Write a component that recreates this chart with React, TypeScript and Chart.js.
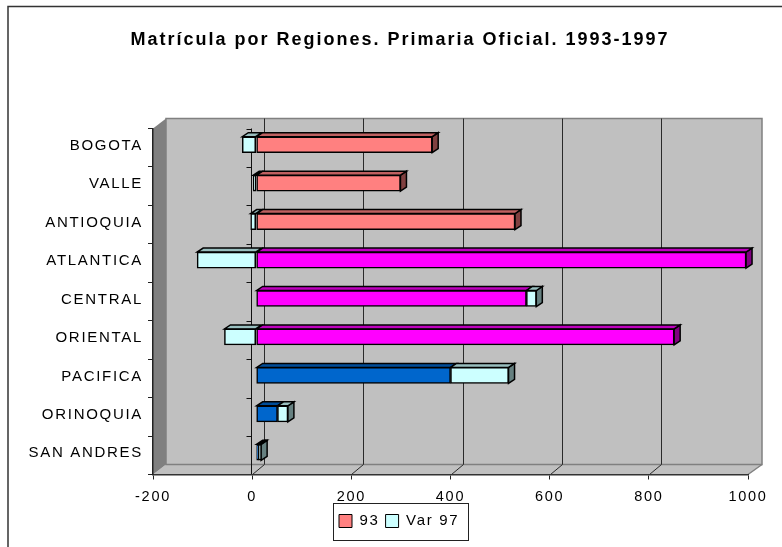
import React, { useEffect, useRef } from "react";
import { Chart, registerables } from "chart.js";

Chart.register(...registerables);

const categories = ["BOGOTA", "VALLE", "ANTIOQUIA", "ATLANTICA", "CENTRAL", "ORIENTAL", "PACIFICA", "ORINOQUIA", "SAN ANDRES"];
const values93 = [355, 291, 522, 988, 545, 843, 392, 43, 5];
const valuesVar97 = [-28, -6, -11, -119, 20, -64, 117, 21, 5];
const salmon = "#FF8080";
const magenta = "#FF00FF";
const blue = "#0066CC";
const cyan = "#CCFFFF";
const colors93 = [salmon, salmon, salmon, magenta, magenta, magenta, blue, blue, blue];
const colorsVar97 = categories.map(() => cyan);
const titleText = "Matrícula por Regiones. Primaria Oficial. 1993-1997";
const FONT = "'Liberation Sans', Arial, sans-serif";

const shade = (hex: string, f: number) => {
  const n = parseInt(hex.slice(1), 16);
  const c = [(n >> 16) & 255, (n >> 8) & 255, n & 255].map((v) => Math.round(v * f));
  return `rgb(${c[0]},${c[1]},${c[2]})`;
};

const poly = (ctx: CanvasRenderingContext2D, pts: number[][], fill: string, stroke?: string, lw = 1) => {
  ctx.beginPath();
  pts.forEach((p, i) => (i ? ctx.lineTo(p[0], p[1]) : ctx.moveTo(p[0], p[1])));
  ctx.closePath();
  ctx.fillStyle = fill;
  ctx.fill();
  if (stroke) {
    ctx.strokeStyle = stroke;
    ctx.lineWidth = lw;
    ctx.stroke();
  }
};

const WALL_LEFT_DX = 13;
const WALL_RIGHT_DX = 14;
const GRID_DX = 12;
const WALL_DY = -10;
const BAR_DX = 4;
const BAR_DY = -3;
const DEPTH_X = 6;
const DEPTH_Y = -4;

const scene = {
  id: "scene",
  beforeDraw(chart: any) {
    const { ctx, chartArea: a, scales } = chart;
    ctx.letterSpacing = "1.7px";
    // position title and legend
    const tb = chart.titleBlock;
    tb.left = 0;
    tb.right = 800;
    if (!tb.__patched) {
      const orig = tb.draw;
      tb.draw = function (...args: any[]) {
        ctx.letterSpacing = "2px";
        orig.apply(this, args);
        ctx.letterSpacing = "1.7px";
      };
      tb.__patched = true;
    }
    const lg = chart.legend;
    lg.left = 333;
    lg.right = 600;
    lg.top = 507.5;
    lg.bottom = 540;

    ctx.save();
    // frame
    ctx.strokeStyle = "#333";
    ctx.lineWidth = 1.5;
    ctx.beginPath();
    ctx.moveTo(8, 547);
    ctx.lineTo(8, 6.5);
    ctx.lineTo(782, 6.5);
    ctx.stroke();
    const bl = a.left + WALL_LEFT_DX;
    const br = a.right + WALL_RIGHT_DX;
    const bt = a.top + WALL_DY;
    const bb = a.bottom + WALL_DY;
    // floor, back wall, side wall
    poly(ctx, [[a.left, a.bottom], [a.right, a.bottom], [br, bb], [bl, bb]], "#C0C0C0");
    poly(ctx, [[bl, bt], [br, bt], [br, bb], [bl, bb]], "#C0C0C0", "#808080", 1.5);
    poly(ctx, [[a.left, a.top], [bl, bt], [bl, bb], [a.left, a.bottom]], "#808080");
    ctx.strokeStyle = "#808080";
    ctx.lineWidth = 1.5;
    ctx.beginPath();
    ctx.moveTo(a.right, a.bottom);
    ctx.lineTo(br, bb);
    ctx.stroke();
    // value grid on wall and floor
    ctx.strokeStyle = "#2a2a2a";
    ctx.lineWidth = 1;
    scales.x.ticks.forEach((t: any) => {
      if (t.value <= scales.x.min || t.value >= scales.x.max) return;
      const x = Math.round(scales.x.getPixelForValue(t.value)) + 0.5;
      ctx.beginPath();
      ctx.moveTo(x + GRID_DX, bt);
      ctx.lineTo(x + GRID_DX, bb);
      ctx.lineTo(x, a.bottom);
      ctx.stroke();
    });
    // zero axis with its ticks
    const zero = Math.round(scales.x.getPixelForValue(0)) - 0.5;
    ctx.strokeStyle = "#111";
    ctx.beginPath();
    ctx.moveTo(zero, a.top);
    ctx.lineTo(zero, a.bottom);
    const band = (a.bottom - a.top) / categories.length;
    categories.forEach((_, i) => {
      const y = Math.round(a.top + i * band) + 0.5;
      ctx.moveTo(zero - 5, y);
      ctx.lineTo(zero, y);
    });
    ctx.stroke();
    ctx.restore();
  },
  beforeDatasetsDraw(chart: any) {
    const { ctx } = chart;
    ctx.save();
    ctx.translate(BAR_DX, BAR_DY);
    chart.data.datasets.forEach((ds: any, di: number) => {
      chart.getDatasetMeta(di).data.forEach((el: any, i: number) => {
        const L = Math.min(el.x, el.base);
        const R = Math.max(el.x, el.base);
        const T = el.y - el.height / 2;
        const B = el.y + el.height / 2;
        const col = ds.backgroundColor[i];
        const outer = ds.data[i] > 0 && !(di === 0 && chart.data.datasets[1].data[i] > 0);
        if (outer) {
          poly(ctx, [[R, T], [R + DEPTH_X, T + DEPTH_Y], [R + DEPTH_X, B + DEPTH_Y], [R, B]], shade(col, 0.5), "#000", 1.5);
        }
        poly(ctx, [[L, T], [R, T], [R + DEPTH_X, T + DEPTH_Y], [L + DEPTH_X, T + DEPTH_Y]], shade(col, 0.75), "#000", 1.5);
      });
    });
  },
  afterDatasetsDraw(chart: any) {
    chart.ctx.restore();
  },
  afterDraw(chart: any) {
    const { ctx } = chart;
    ctx.save();
    ctx.strokeStyle = "#222";
    ctx.lineWidth = 1;
    ctx.strokeRect(333.5, 503.5, 135, 37);
    ctx.restore();
  },
};

export default function App() {
  const ref = useRef<HTMLCanvasElement>(null);
  useEffect(() => {
    const chart = new Chart(ref.current!, {
      type: "bar",
      plugins: [scene],
      data: {
        labels: categories,
        datasets: [
          { label: "93", data: values93, backgroundColor: colors93, borderColor: "#000", borderWidth: 1.5, borderSkipped: false, barThickness: 16, clip: false } as any,
          { label: "Var 97", data: valuesVar97, backgroundColor: colorsVar97, borderColor: "#000", borderWidth: 1.5, borderSkipped: false, barThickness: 16, clip: false } as any,
        ],
      },
      options: {
        indexAxis: "y",
        animation: false,
        responsive: false,
        layout: { padding: { left: 0, right: 34, top: 0, bottom: 0 } },
        plugins: {
          tooltip: { enabled: false },
          title: {
            display: true,
            text: titleText,
            color: "#000",
            font: { family: FONT, size: 18, weight: "bold" },
            padding: { top: 29, bottom: 77.9 },
          },
          legend: {
            position: "bottom",
            align: "start",
            labels: {
              boxWidth: 13,
              boxHeight: 13,
              padding: 6,
              color: "#000",
              font: { family: FONT, size: 15 },
              generateLabels: () => [
                { text: "93", fillStyle: salmon, strokeStyle: "#000", lineWidth: 1, datasetIndex: 0 },
                { text: "Var 97", fillStyle: cyan, strokeStyle: "#000", lineWidth: 1, datasetIndex: 1 },
              ],
            },
          },
        },
        scales: {
          x: {
            stacked: true,
            min: -200,
            max: 1000,
            ticks: { stepSize: 200, color: "#000", font: { family: FONT, size: 14.5 }, maxRotation: 0, padding: 9, callback: (v: any) => String(v) },
            grid: { drawOnChartArea: false, drawTicks: true, tickLength: 5, color: "#222" },
            border: { color: "#333", width: 1.5 },
            afterFit: (s: any) => {
              s.height = 72.5 - s.chart.legend.height;
            },
          },
          y: {
            stacked: true,
            ticks: { color: "#000", font: { family: FONT, size: 15 }, padding: 5, labelOffset: -2 },
            grid: { drawOnChartArea: false, drawTicks: true, tickLength: 5, color: "#222" },
            border: { color: "#222", width: 1.5 },
            afterFit: (s: any) => {
              s.width = 153;
            },
          },
        },
      },
    } as any);
    return () => chart.destroy();
  }, []);
  return (
    <div style={{ position: "absolute", left: 0, top: 0, width: 782, height: 547, background: "#fff" }}>
      <canvas ref={ref} width={782} height={547} style={{ display: "block" }} />
    </div>
  );
}
